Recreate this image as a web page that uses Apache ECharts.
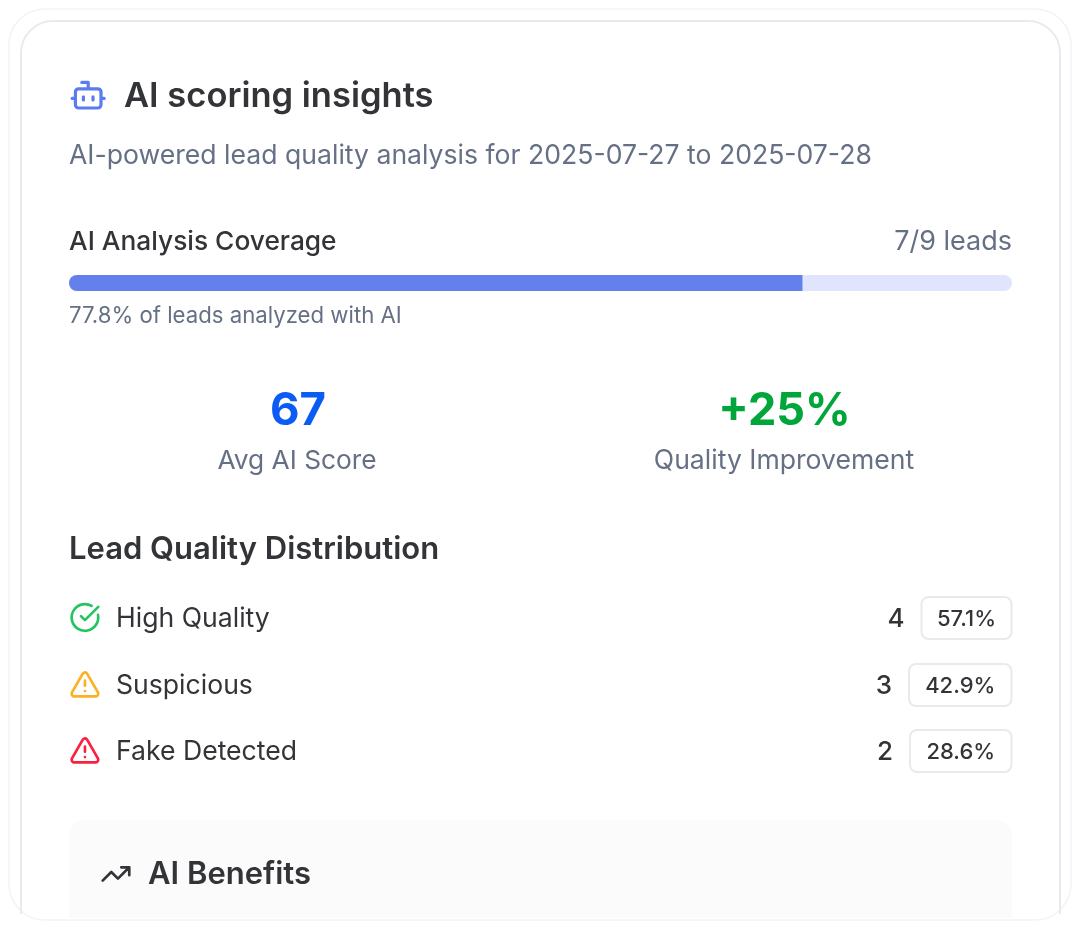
<!DOCTYPE html>
<html lang="en">
<head>
  <meta charset="UTF-8">
  <title>AI scoring insights</title>
  <script src="https://cdn.jsdelivr.net/npm/echarts@6/dist/echarts.min.js"></script>
  <style>
    html, body { margin: 0; padding: 0; background: #fff; }
  </style>
</head>
<body>
<div id="main" style="width: 1080px;height: 928px"></div>
<script>
  var analyzedLeads = [7];
  var totalLeads = [9];
  var qualityNames = ['High Quality', 'Suspicious', 'Fake Detected'];
  var qualityCounts = [4, 3, 2];
  var qualityShares = ['57.1%', '42.9%', '28.6%'];
  var statValues = ['67', '+25%'];
  var statNames = ['Avg AI Score', 'Quality Improvement'];

  var chart = echarts.init(document.getElementById('main'));
  var FONT = 'Inter, "Noto Sans", sans-serif';
  var DARK = '#333438';
  var GREY = '#667085';

  // the graphic component only knows registered shapes, so svg paths go in here
  var shapes = {
    botIcon: 'M12 8V4H8 M6 8h12a2 2 0 0 1 2 2v8a2 2 0 0 1-2 2H6a2 2 0 0 1-2-2v-8a2 2 0 0 1 2-2z M2 14h2 M20 14h2 M15 13v2 M9 13v2',
    checkIcon: 'M21.801 10A10 10 0 1 1 17 3.335 M9 11l3 3L22 4',
    alertIcon: 'M21.73 18l-8-14a2 2 0 0 0-3.48 0l-8 14A2 2 0 0 0 4 21h16a2 2 0 0 0 1.73-3 M12 9v4 M12 17h.01',
    trendIcon: 'M16 7h6v6 M22 7l-8.5 8.5-5-5L2 17',
    innerCard: 'M21 914V53a32 32 0 0 1 32-32H1028a32 32 0 0 1 32 32V914',
    benefitsPanel: 'M69 918V836a16 16 0 0 1 16-16H996a16 16 0 0 1 16 16V918z'
  };
  Object.keys(shapes).forEach(function (name) {
    echarts.graphic.registerShape(name, echarts.graphic.extendPath(shapes[name]));
  });

  function text(str, x, y, size, weight, color, align) {
    return {
      type: 'text', x: x, y: y, z: 10,
      style: {
        text: str, fill: color, align: align || 'left', verticalAlign: 'middle',
        fontFamily: FONT, fontSize: size, fontWeight: weight
      }
    };
  }

  // icons are drawn on a 24 unit grid and scaled
  function icon(name, x, y, scale, color) {
    return {
      type: name, x: x, y: y, scaleX: scale, scaleY: scale, z: 10,
      style: { fill: 'none', stroke: color, lineWidth: 2, lineCap: 'round', lineJoin: 'round' }
    };
  }

  var rowY = [618, 685, 751];
  var rowIcons = ['checkIcon', 'alertIcon', 'alertIcon'];
  var rowColors = ['#22c55e', '#fdb022', '#fb2040'];
  var badgeLeft = [921.5, 909, 910];

  var graphics = [
    // card outlines
    { type: 'rect', shape: { x: 9, y: 9, width: 1062, height: 911, r: 36 },
      style: { fill: '#fff', stroke: '#f3f3f6', lineWidth: 1.5 } },
    { type: 'innerCard', style: { fill: 'none', stroke: '#e9e9f0', lineWidth: 2 } },
    // benefits panel, cut off by the bottom of the card
    { type: 'benefitsPanel', style: { fill: '#fbfbfb' } },

    icon('botIcon', 69, 76, 1.6, '#5b7cf0'),
    text('AI scoring insights', 124, 97, 34.5, 600, DARK),
    text('AI-powered lead quality analysis for 2025-07-27 to 2025-07-28', 69, 156, 26.6, 400, GREY),
    text('AI Analysis Coverage', 69, 242, 26.3, 500, DARK),
    text(analyzedLeads[0] + '/' + totalLeads[0] + ' leads', 1012, 242, 27, 400, GREY, 'right'),
    text((analyzedLeads[0] / totalLeads[0] * 100).toFixed(1) + '% of leads analyzed with AI', 69, 316, 22.2, 400, GREY),

    text(statValues[0], 298, 411, 45.5, 700, '#0a5cf5', 'center'),
    text(statValues[1], 784.5, 411, 45, 700, '#00a63a', 'center'),
    text(statNames[0], 297, 461, 26.3, 400, GREY, 'center'),
    text(statNames[1], 784, 461, 26.6, 400, GREY, 'center'),

    text('Lead Quality Distribution', 69, 550, 31, 600, DARK),

    icon('trendIcon', 100, 858, 1.33, DARK),
    text('AI Benefits', 148, 875, 31, 600, DARK)
  ];

  qualityNames.forEach(function (name, i) {
    var y = rowY[i];
    graphics.push(icon(rowIcons[i], 69, y - 16.5, 1.33, rowColors[i]));
    graphics.push(text(name, 116, y + 1, 26.6, 400, DARK));
    graphics.push(text(String(qualityCounts[i]), badgeLeft[i] - 17, y + 1, 26, 500, DARK, 'right'));
    graphics.push({
      type: 'rect', z: 9,
      shape: { x: badgeLeft[i], y: y - 21, width: 1011.5 - badgeLeft[i], height: 42, r: 7 },
      style: { fill: '#fff', stroke: '#e9e9f0', lineWidth: 2 }
    });
    graphics.push(text(qualityShares[i], (badgeLeft[i] + 1011.5) / 2, y + 1, 22, 500, DARK, 'center'));
  });

  var option = {
    animation: false,
    backgroundColor: '#fff',
    graphic: { elements: graphics },
    grid: { left: 69, right: 68, top: 275, height: 16 },
    xAxis: { type: 'value', min: 0, max: totalLeads[0], show: false },
    yAxis: { type: 'category', data: ['coverage'], show: false },
    series: [
      { // track
        type: 'bar', data: totalLeads, barWidth: 16, barGap: '-100%', silent: true, z: 2,
        itemStyle: { color: '#e0e4fc', borderRadius: 8 }
      },
      {
        type: 'bar', data: analyzedLeads, barWidth: 16, silent: true, z: 3,
        itemStyle: { color: '#6380ec', borderRadius: [8, 0, 0, 8] }
      }
    ]
  };

  chart.setOption(option);
</script>
</body>
</html>
